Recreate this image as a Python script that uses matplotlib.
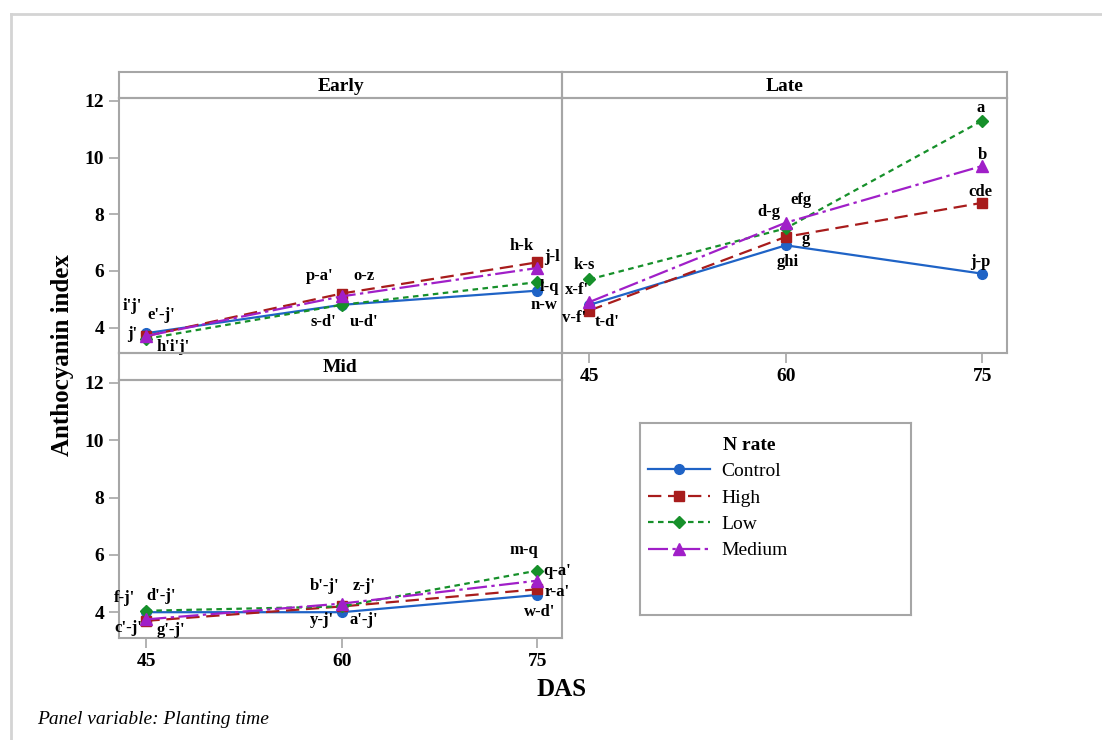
import matplotlib
matplotlib.use('Agg')
import matplotlib.pyplot as plt
from matplotlib.lines import Line2D

plt.rcParams['font.family'] = ['Liberation Serif', 'DejaVu Serif']

W, H = 1102, 740

das = [45, 60, 75]
n_rates = ['Control', 'High', 'Low', 'Medium']

# anthocyanin index
early_control = [3.8, 4.8, 5.3]
early_high = [3.7, 5.2, 6.3]
early_low = [3.6, 4.8, 5.6]
early_medium = [3.7, 5.1, 6.1]

late_control = [4.8, 6.9, 5.9]
late_high = [4.6, 7.2, 8.4]
late_low = [5.7, 7.5, 11.3]
late_medium = [4.9, 7.7, 9.7]

mid_control = [4.0, 4.0, 4.6]
mid_high = [3.7, 4.2, 4.8]
mid_low = [4.05, 4.2, 5.45]
mid_medium = [3.75, 4.3, 5.1]

# mean separation letters (per series, per DAS)
early_letters = [["i'j'", "s-d'", "n-w"], ["e'-j'", "p-a'", "h-k"],
                 ["h'i'j'", "u-d'", "l-q"], ["j'", "o-z", "j-l"]]
late_letters = [["v-f'", "ghi", "j-p"], ["t-d'", "g", "cde"],
                ["k-s", "efg", "a"], ["x-f'", "d-g", "b"]]
mid_letters = [["d'-j'", "y-j'", "w-d'"], ["g'-j'", "a'-j'", "r-a'"],
               ["f-j'", "z-j'", "m-q"], ["c'-j'", "b'-j'", "q-a'"]]

# label offsets from the marker, in pixels
early_offsets = [[(-14, 27), (-18, -17), (7, -14)], [(15, 21), (-22, 17), (-16, 16)],
                 [(27, -8), (22, -17), (12, -5)], [(-14, 2), (22, 20), (15, 11)]]
late_offsets = [[(-15, -13), (2, -17), (-2, 12)], [(18, -12), (20, -2), (-2, 11)],
                [(-5, 14), (15, 28), (-2, 13)], [(-12, 12), (-17, 11), (0, 11)]]
mid_offsets = [[(15, 16), (-20, -8), (2, -17)], [(25, -9), (22, -14), (20, -3)],
               [(-22, 13), (22, 20), (-13, 21)], [(-18, -9), (-17, 18), (20, 10)]]

colors = ['#1f63c6', '#a81c1c', '#16902a', '#a01fc8']
markers = ['o', 's', 'D', '^']
msizes = [7, 7, 6, 8]
dashes = [None, (6, 3), (2.5, 2), (9, 2, 1.5, 2)]
frame_col = '#a6a6a6'

fig = plt.figure(figsize=(W / 100, H / 100), dpi=100)


def px_axes(x0, y0, x1, y1):
    return fig.add_axes([x0 / W, 1 - y1 / H, (x1 - x0) / W, (y1 - y0) / H])


def style_frame(ax):
    for s in ax.spines.values():
        s.set_color(frame_col)
        s.set_linewidth(1.5)
    ax.set_facecolor('none')


def strip(x0, y0, x1, y1, title):
    sa = px_axes(x0, y0, x1, y1)
    style_frame(sa)
    sa.set_xticks([]); sa.set_yticks([])
    sa.text(0.5, 0.45, title, ha='center', va='center', fontsize=14, fontweight='bold',
            transform=sa.transAxes)


def panel(ax, data, letters, offsets, show_x, show_y):
    style_frame(ax)
    for i, name in enumerate(n_rates):
        line, = ax.plot(das, data[i], color=colors[i], marker=markers[i], markersize=msizes[i],
                        linewidth=1.6, label=name, zorder=3)
        if dashes[i] is not None:
            line.set_dashes(dashes[i])
        for j in range(3):
            ax.annotate(letters[i][j], (das[j], data[i][j]), xytext=offsets[i][j],
                        textcoords='offset pixels', ha='center', va='center',
                        fontsize=12, fontweight='bold', annotation_clip=False, zorder=5)
    ax.set_xlim(42.9, 76.9)
    ax.set_ylim(3.1, 12.1)
    ax.set_xticks(das)
    ax.set_yticks([4, 6, 8, 10, 12])
    ax.tick_params(axis='both', colors=frame_col, length=7, width=1.2, labelcolor='black',
                   labelsize=14)
    for t in ax.get_xticklabels() + ax.get_yticklabels():
        t.set_fontweight('bold')
    if not show_x:
        ax.tick_params(axis='x', bottom=False, labelbottom=False)
    if not show_y:
        ax.tick_params(axis='y', left=False, labelleft=False)


ax_early = px_axes(119, 98, 562, 353)
ax_late = px_axes(562, 98, 1007, 353)
ax_mid = px_axes(119, 380, 562, 638)

panel(ax_early, [early_control, early_high, early_low, early_medium],
      early_letters, early_offsets, False, True)
panel(ax_late, [late_control, late_high, late_low, late_medium],
      late_letters, late_offsets, True, False)
panel(ax_mid, [mid_control, mid_high, mid_low, mid_medium],
      mid_letters, mid_offsets, True, True)

strip(119, 72, 562, 98, 'Early')
strip(562, 72, 1007, 98, 'Late')
strip(119, 353, 562, 380, 'Mid')

# legend box
lax = px_axes(640, 423, 911, 615)
style_frame(lax)
lax.set_xticks([]); lax.set_yticks([])
handles, labels = ax_mid.get_legend_handles_labels()
lax.legend(handles, labels, loc='upper left', frameon=False, fontsize=14,
           handlelength=3.2, handletextpad=0.6, labelspacing=0.45,
           borderaxespad=0.0, borderpad=0.4, bbox_to_anchor=(0.0, 0.834))
lax.text(83 / 271, 1 - 23 / 192, 'N rate', transform=lax.transAxes, ha='left', va='center',
         fontsize=14, fontweight='bold')

fig.text(62 / W, 1 - 355 / H, 'Anthocyanin index', rotation=90, ha='center', va='center',
         fontsize=18, fontweight='bold')
fig.text(562 / W, 1 - 690 / H, 'DAS', ha='center', va='center', fontsize=18, fontweight='bold')
fig.text(37 / W, 1 - 720 / H, 'Panel variable: Planting time', ha='left', va='center',
         fontsize=14, style='italic')

# outer frame
fig.add_artist(Line2D([11 / W, 1], [1 - 14 / H, 1 - 14 / H], color='#d4d4d4', linewidth=2,
                      transform=fig.transFigure))
fig.add_artist(Line2D([11 / W, 11 / W], [0, 1 - 14 / H], color='#d4d4d4', linewidth=2,
                      transform=fig.transFigure))

fig.savefig('out.png', dpi=100)
